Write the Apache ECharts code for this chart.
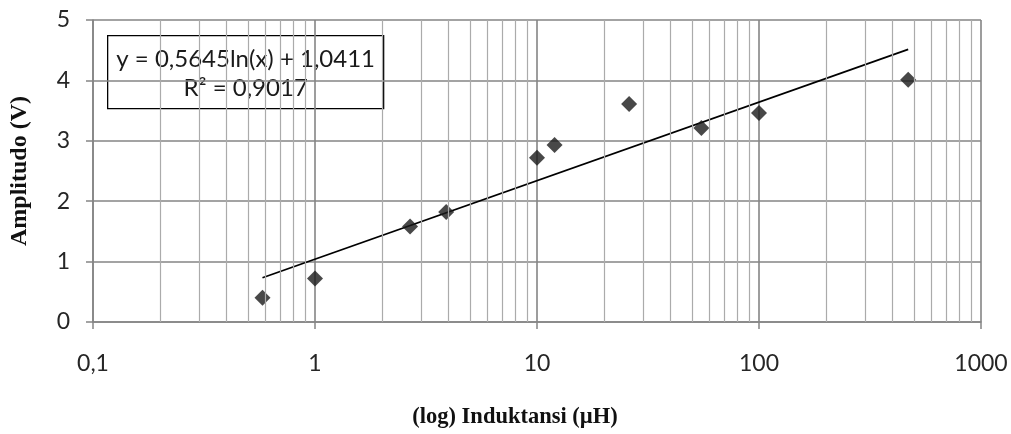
<!DOCTYPE html>
<html><head><meta charset="utf-8">
<script src="https://cdn.jsdelivr.net/npm/echarts@6/dist/echarts.min.js"></script>
<style>html,body{margin:0;padding:0;background:#fff}#c{width:1011px;height:434px}</style>
</head><body><div id="c"></div>
<script>
const inductance = [0.58, 1, 2.68, 3.9, 10, 12, 26, 55, 100, 470];
const amplitude  = [0.40, 0.72, 1.58, 1.82, 2.72, 2.93, 3.61, 3.21, 3.46, 4.01];
const trendA = 0.5645, trendB = 1.0411, r2 = 0.9017;
const minorGrid = [0.2,0.3,0.4,0.5,0.6,0.7,0.8,0.9,2,3,4,5,6,7,8,9,20,30,40,50,60,70,80,90,200,300,400,500,600,700,800,900];
const yTicks = [0,1,2,3,4,5];

const xMin = Math.min(...inductance), xMax = Math.max(...inductance);
const trend = [xMin, xMax].map(x => [x, trendA*Math.log(x)+trendB]);
const fmt = v => String(v).replace('.', ',');

const chart = echarts.init(document.getElementById('c'));
chart.setOption({
  animation:false,
  backgroundColor:'#fff',
  grid:{left:93,right:30,top:20,bottom:108},
  xAxis:{type:'log',logBase:10,min:0.1,max:1000,
    name:'(log) Induktansi (µH)',nameLocation:'middle',nameGap:84,
    nameTextStyle:{fontFamily:'Liberation Serif',fontWeight:'bold',fontSize:22.5,color:'#111',padding:[0,44,0,0]},
    axisLine:{lineStyle:{color:'#858585',width:1.5}},
    axisTick:{show:true,length:7,lineStyle:{color:'#858585',width:1.5}},
    axisLabel:{formatter:v=>fmt(v),fontFamily:'Lato',fontSize:23,color:'#262626',margin:30},
    splitLine:{show:true,lineStyle:{color:'#858585',width:1.6}}},
  yAxis:{type:'value',min:0,max:5,interval:1,
    name:'Amplitudo (V)',nameLocation:'middle',nameGap:61,
    nameTextStyle:{fontFamily:'Liberation Serif',fontWeight:'bold',fontSize:24,color:'#111'},
    axisLine:{show:true,lineStyle:{color:'#858585',width:1.5}},
    axisTick:{show:true,length:7,lineStyle:{color:'#858585',width:1.5}},
    axisLabel:{fontFamily:'Lato',fontSize:23,color:'#262626',margin:23,formatter:v=>yTicks.includes(v)?String(v):''},
    splitLine:{show:true,lineStyle:{color:'#858585',width:1.6}}},
  series:[
    {type:'line',data:[],silent:true,
     markLine:{silent:true,symbol:'none',label:{show:false},animation:false,
       lineStyle:{color:'#ababab',width:1.2,type:'solid'},
       data:minorGrid.map(v=>({xAxis:v}))}},
    {type:'line',data:trend,showSymbol:false,symbol:'none',lineStyle:{color:'#000',width:1.7},z:3},
    {type:'scatter',data:inductance.map((x,i)=>[x,amplitude[i]]),symbol:'diamond',symbolSize:16,
     itemStyle:{color:'#1a1a1a'},z:4}
  ],
  graphic:[{type:'group',left:107,top:35,children:[
    {type:'rect',shape:{x:0,y:0,width:276,height:73},style:{fill:'#fff',stroke:'#000',lineWidth:1.3}},
    {type:'text',x:138,y:24,style:{text:'y = '+fmt(trendA)+'ln(x) + '+fmt(trendB),align:'center',verticalAlign:'middle',fontFamily:'Lato',fontSize:24,fill:'#1a1a1a'}},
    {type:'text',x:138,y:53,style:{text:'R² = '+fmt(r2),align:'center',verticalAlign:'middle',fontFamily:'Lato',fontSize:24,fill:'#1a1a1a'}}
  ]}]
});
</script></body></html>
